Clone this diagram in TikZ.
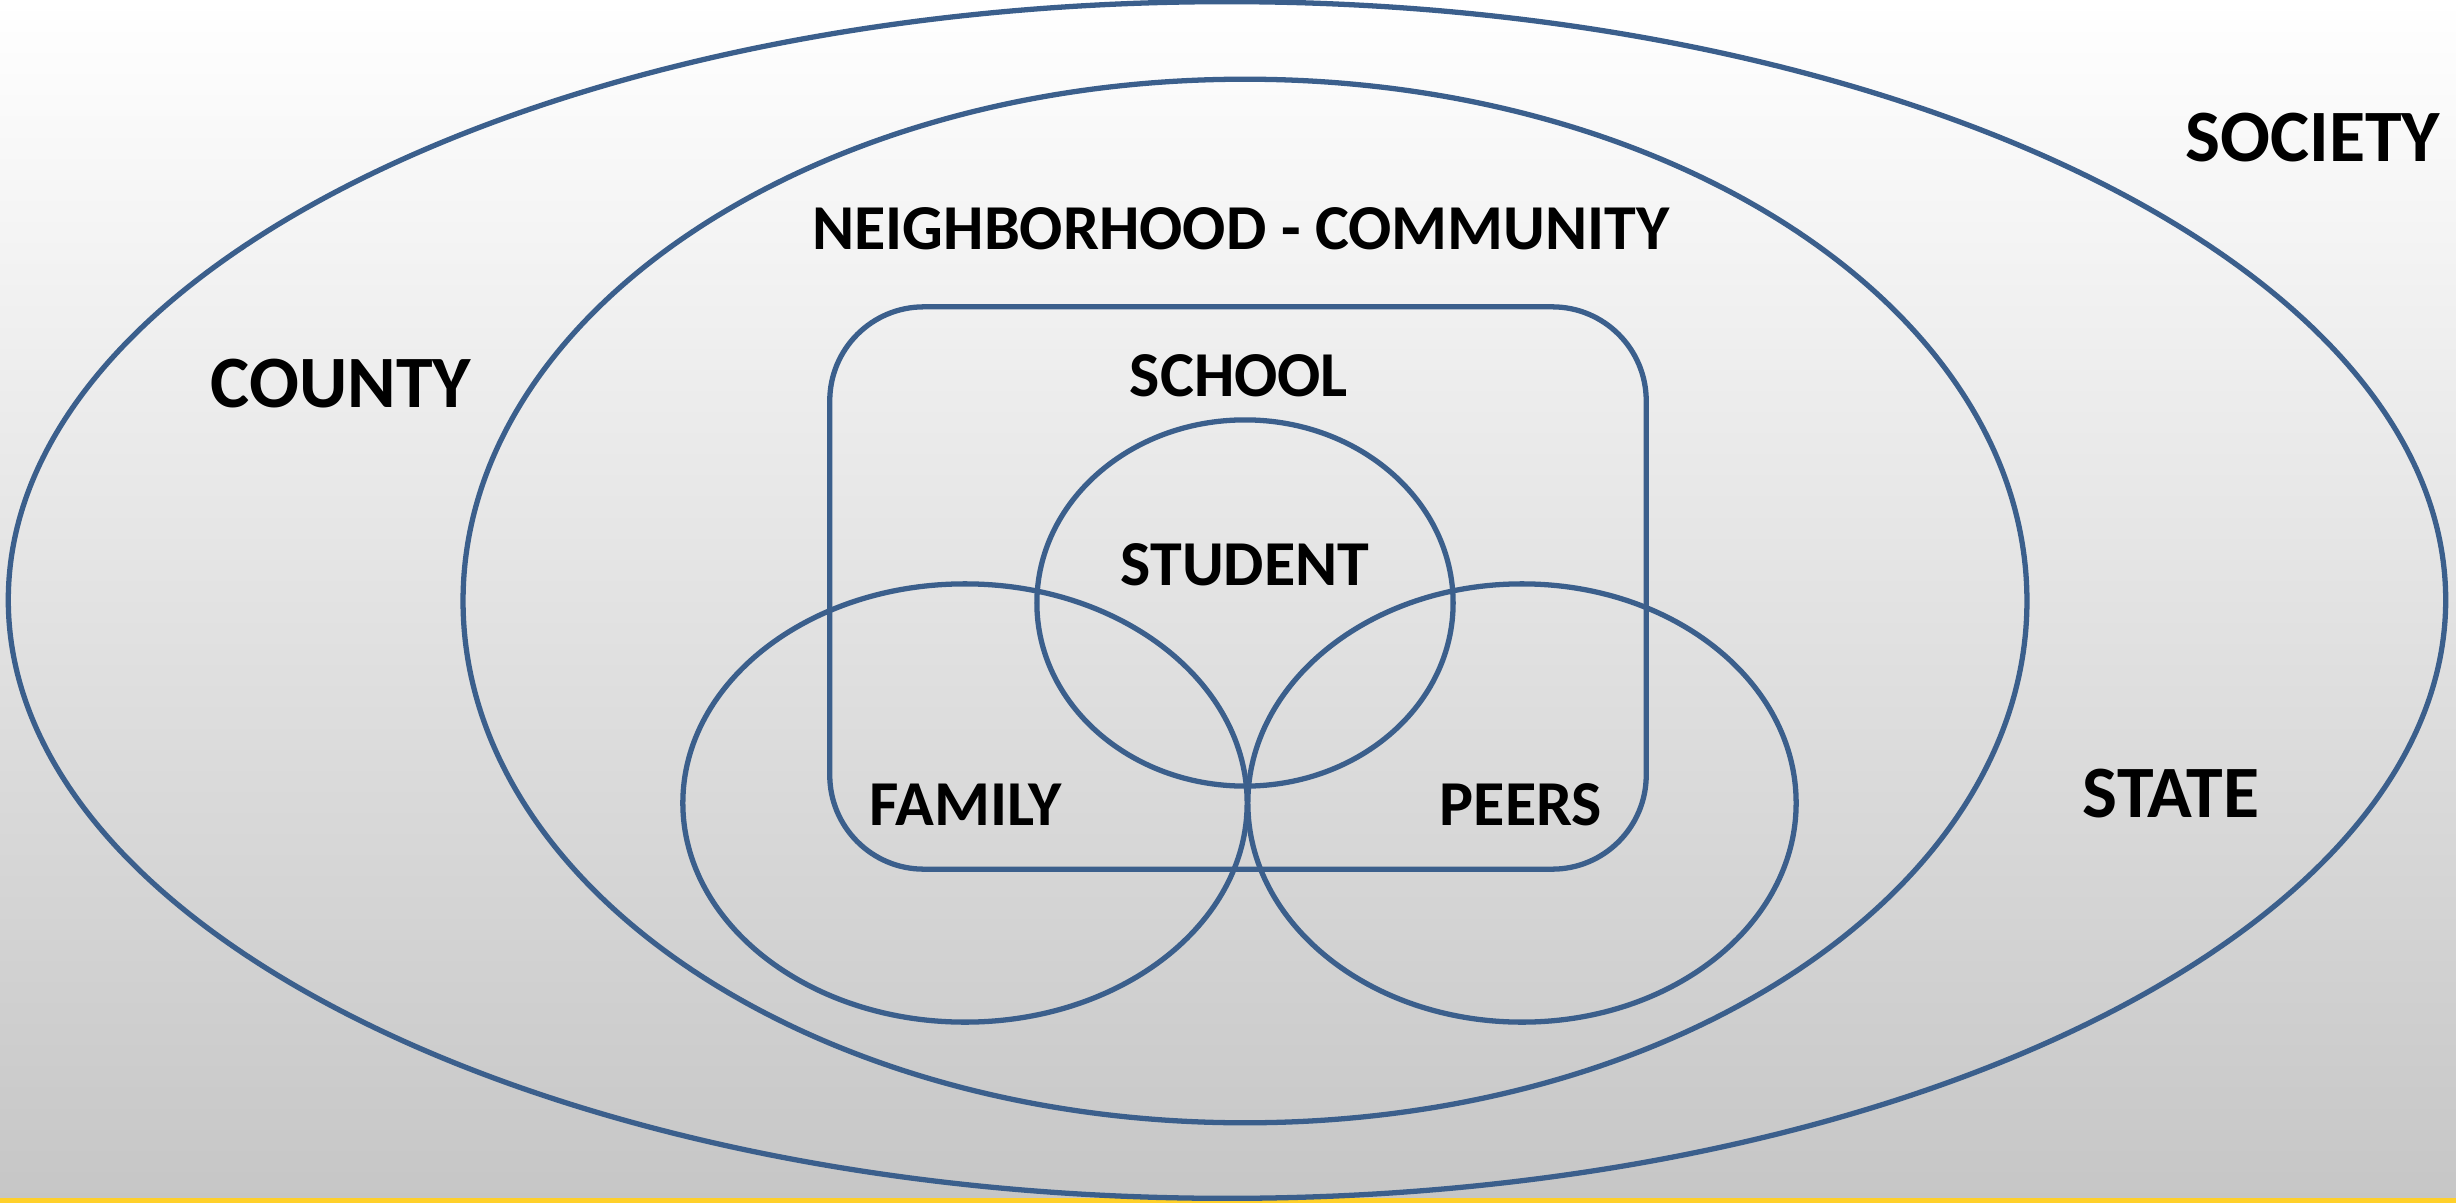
\documentclass[tikz,border=0pt]{standalone}
\usepackage{fontspec}
\setmainfont{Carlito}
\usetikzlibrary{shapes.geometric}
\definecolor{ringblue}{RGB}{59,95,140}
\definecolor{bargold}{RGB}{255,208,42}
\definecolor{bggray}{RGB}{198,198,198}

\begin{document}
\begin{tikzpicture}
  [x=0.01cm,y=-0.01cm,
   ring/.style={ellipse,draw=ringblue,line width=1.5pt,inner sep=0pt},
   tag/.style={font=\fontsize{18.2}{22}\selectfont\bfseries,inner sep=0pt},
   bigtag/.style={tag,font=\fontsize{21}{25}\selectfont\bfseries}]
  % background
  \fill[top color=white,bottom color=bggray] (0,0) rectangle (2456,1203);
  \fill[bargold] (0,1198) rectangle (2456,1203);
  \useasboundingbox (0,0) rectangle (2456,1203);

  \node[ring,minimum width=24.36cm,minimum height=11.96cm] (society) at (1227,600) {};
  \node[ring,minimum width=15.63cm,minimum height=10.43cm] (hood) at (1245,601) {};
  \node[draw=ringblue,line width=1.5pt,rounded corners=0.94cm,
        minimum width=8.16cm,minimum height=5.62cm] (school) at (1238,588) {};
  \node[ring,minimum width=4.16cm,minimum height=3.66cm] (student) at (1245,603) {};
  \node[ring,minimum width=5.64cm,minimum height=4.38cm] (family) at (965,803) {};
  \node[ring,minimum width=5.48cm,minimum height=4.38cm] (peers) at (1522,803) {};

  \node[bigtag] (societyT) at (2313,138) {SOCIETY};
  \node[bigtag] (stateT) at (2171,794) {STATE};
  \node[bigtag] (countyT) at (341,384) {COUNTY};
  \node[tag] (hoodT) at (1241,229) {NEIGHBORHOOD - COMMUNITY};
  \node[tag] (schoolT) at (1239,376) {SCHOOL};
  \node[tag] (studentT) at (1245,565) {STUDENT};
  \node[tag] (familyT) at (966,805) {FAMILY};
  \node[tag] (peersT) at (1521,805) {PEERS};
\end{tikzpicture}
\end{document}
